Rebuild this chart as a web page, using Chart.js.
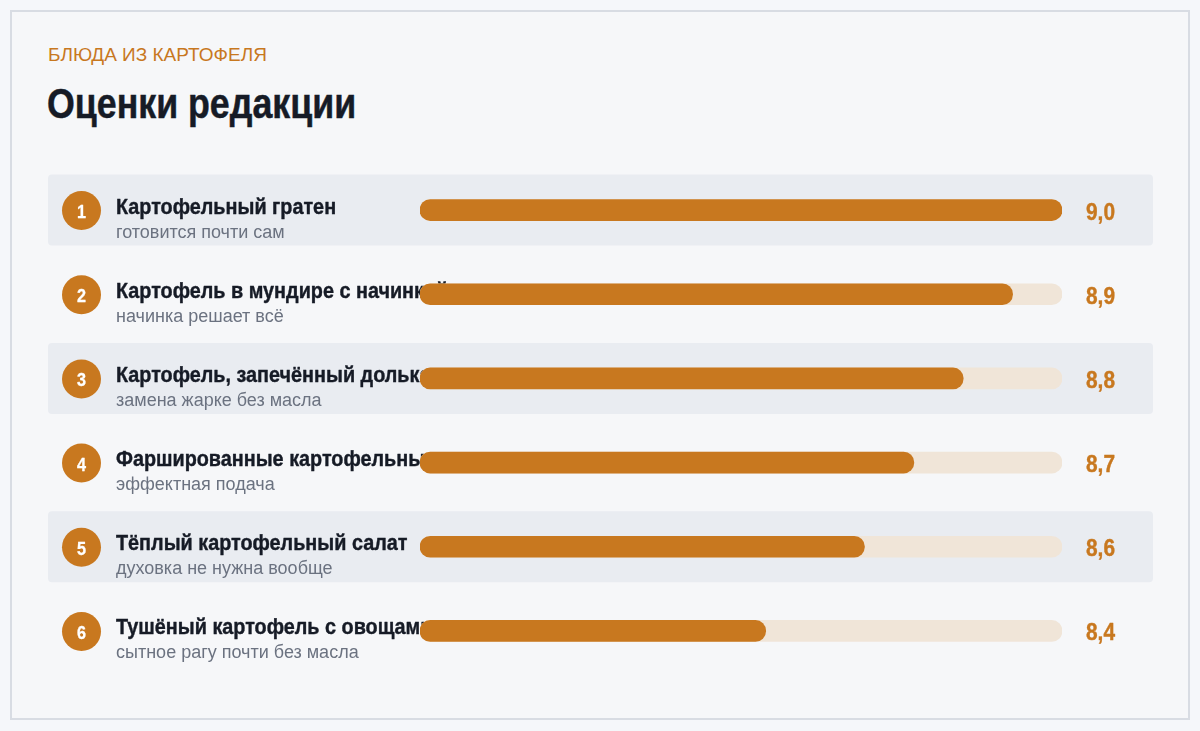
<!DOCTYPE html>
<html>
<head>
<meta charset="utf-8">
<script src="https://cdn.jsdelivr.net/npm/chart.js@4.4.1/dist/chart.umd.min.js"></script>
<style>
  html, body { margin: 0; padding: 0; background: #f5f7fa; width: 1200px; height: 731px; overflow: hidden; }
  #frame { position: absolute; left: 10px; top: 10px; width: 1176px; height: 706px; border: 2px solid #d8dce3; background: #f6f7f9; }
  #kicker { position: absolute; left: 48px; top: 44px; font: 19px 'Liberation Sans', Arial, sans-serif; color: #c8781f; white-space: nowrap; }
  #title { position: absolute; left: 47px; top: 80px; font: bold 42px 'Liberation Sans', Arial, sans-serif; color: #161b26; white-space: nowrap; transform: scaleX(0.851); transform-origin: 0 0; -webkit-text-stroke: 0.5px #161b26; }
  #wrap { position: absolute; left: 48px; top: 168px; width: 1105px; height: 505px; }
</style>
</head>
<body>
<div id="frame"></div>
<div id="kicker">БЛЮДА ИЗ КАРТОФЕЛЯ</div>
<div id="title">Оценки редакции</div>
<div id="wrap"><canvas id="c" width="1105" height="505"></canvas></div>
<script>
const dishes = [
  'Картофельный гратен',
  'Картофель в мундире с начинкой',
  'Картофель, запечённый дольками',
  'Фаршированные картофельные лодочки',
  'Тёплый картофельный салат',
  'Тушёный картофель с овощами'
];
const notes = [
  'готовится почти сам',
  'начинка решает всё',
  'замена жарке без масла',
  'эффектная подача',
  'духовка не нужна вообще',
  'сытное рагу почти без масла'
];
const scores = [9.0, 8.9, 8.8, 8.7, 8.6, 8.4];
const scaleMin = 7.7;
const scaleMax = 9.0;

const ORANGE = '#c8781f';
const REG = "'Liberation Sans', Arial, sans-serif";

function rr(ctx, x, y, w, h, r) {
  ctx.beginPath();
  ctx.moveTo(x + r, y);
  ctx.lineTo(x + w - r, y);
  ctx.arcTo(x + w, y, x + w, y + r, r);
  ctx.lineTo(x + w, y + h - r);
  ctx.arcTo(x + w, y + h, x + w - r, y + h, r);
  ctx.lineTo(x + r, y + h);
  ctx.arcTo(x, y + h, x, y + h - r, r);
  ctx.lineTo(x, y + r);
  ctx.arcTo(x, y, x + r, y, r);
  ctx.closePath();
}

function squeezedText(ctx, text, x, y, sx, stroke) {
  ctx.save();
  ctx.translate(x, y);
  ctx.scale(sx, 1);
  ctx.fillText(text, 0, 0);
  if (stroke) {
    ctx.strokeStyle = ctx.fillStyle;
    ctx.lineWidth = stroke;
    ctx.lineJoin = 'round';
    ctx.strokeText(text, 0, 0);
  }
  ctx.restore();
}

const rowsPlugin = {
  id: 'rows',
  beforeDatasetsDraw(chart) {
    const ctx = chart.ctx;
    const ys = chart.scales.y;
    ctx.save();
    dishes.forEach((name, i) => {
      const cy = ys.getPixelForValue(i);
      if (i % 2 === 0) {
        ctx.fillStyle = '#e9ecf1';
        rr(ctx, 0, cy - 35.5, chart.width, 71, 4);
        ctx.fill();
      }
      ctx.fillStyle = ORANGE;
      ctx.beginPath();
      ctx.arc(33.5, cy + 0.5, 19.5, 0, Math.PI * 2);
      ctx.fill();
      ctx.fillStyle = '#ffffff';
      ctx.font = 'bold 18px ' + REG;
      ctx.textAlign = 'center';
      ctx.textBaseline = 'alphabetic';
      squeezedText(ctx, String(i + 1), 33.5, cy + 8, 0.9, 0.3);
      ctx.textAlign = 'left';
      ctx.fillStyle = '#161b26';
      ctx.font = 'bold 22px ' + REG;
      squeezedText(ctx, name, 68, cy + 3.5, 0.9, 0.4);
      ctx.fillStyle = '#6b7280';
      ctx.font = '18px ' + REG;
      ctx.fillText(notes[i], 68, cy + 27.5);
    });
    ctx.restore();
  },
  afterDatasetsDraw(chart) {
    const ctx = chart.ctx;
    const ys = chart.scales.y;
    ctx.save();
    ctx.fillStyle = ORANGE;
    ctx.font = 'bold 24px ' + REG;
    ctx.textAlign = 'left';
    ctx.textBaseline = 'alphabetic';
    scores.forEach((v, i) => {
      const cy = ys.getPixelForValue(i);
      squeezedText(ctx, v.toFixed(1).replace('.', ','), 1038, cy + 9.5, 0.87, 0.4);
    });
    ctx.restore();
  }
};

new Chart(document.getElementById('c'), {
  type: 'bar',
  data: {
    labels: dishes,
    datasets: [
      {
        data: scores,
        base: scaleMin,
        backgroundColor: ORANGE,
        barThickness: 21,
        borderRadius: 11,
        borderSkipped: false,
        grouped: false,
        order: 0
      },
      {
        data: scores.map(() => scaleMax),
        base: scaleMin,
        backgroundColor: '#f0e5d8',
        barThickness: 21,
        borderRadius: 11,
        borderSkipped: false,
        grouped: false,
        order: 1
      }
    ]
  },
  options: {
    indexAxis: 'y',
    responsive: false,
    animation: false,
    events: [],
    layout: { padding: { left: 372, right: 91, top: 0, bottom: 0 } },
    scales: {
      x: { display: false, min: scaleMin, max: scaleMax },
      y: { display: false }
    },
    plugins: { legend: { display: false }, tooltip: { enabled: false } }
  },
  plugins: [rowsPlugin]
});
</script>
</body>
</html>
